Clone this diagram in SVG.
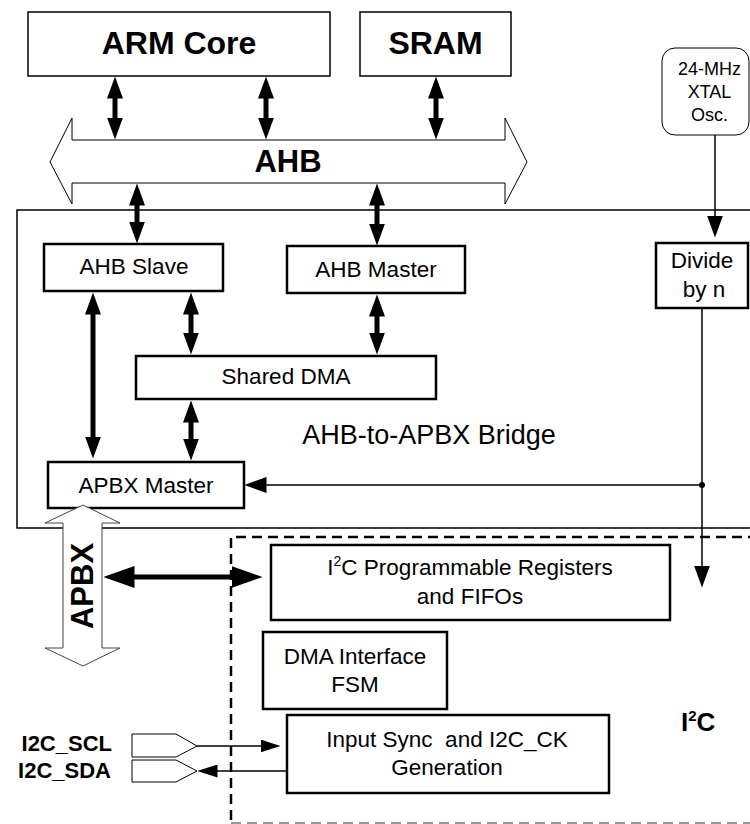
<svg xmlns="http://www.w3.org/2000/svg" width="750" height="824" viewBox="0 0 750 824">
<style>
  text { font-family: "Liberation Sans", Arial, Helvetica, sans-serif; fill: #000; }
  .big { font-size: 32px; font-weight: bold; text-anchor: middle; }
  .lbl { font-size: 22.5px; text-anchor: middle; }
  .thinbox { fill: #fff; stroke: #000; stroke-width: 1.5; }
  .thickbox { fill: #fff; stroke: #000; stroke-width: 2.5; }
  .bus { fill: #fff; stroke: #000; stroke-width: 1; }
  .bi { fill: none; stroke: #000; stroke-width: 5; marker-start: url(#ah); marker-end: url(#ah); }
  .thin { fill: none; stroke: #000; stroke-width: 1.5; }
  .osc { font-size: 18px; text-anchor: middle; }
  .pin { font-size: 22px; font-weight: bold; text-anchor: end; }
</style>
<defs>
  <marker id="ah" viewBox="0 0 22 16" markerWidth="22" markerHeight="16" refX="0.5" refY="8" markerUnits="userSpaceOnUse" orient="auto-start-reverse">
    <path d="M0,0 L22,8 L0,16 Z" fill="#000"/>
  </marker>
  <marker id="ah2" viewBox="0 0 31 22" markerWidth="31" markerHeight="22" refX="0.5" refY="11" markerUnits="userSpaceOnUse" orient="auto-start-reverse">
    <path d="M0,0 L31,11 L0,22 Z" fill="#000"/>
  </marker>
  <marker id="th" viewBox="0 0 22 16" markerWidth="22" markerHeight="16" refX="0.5" refY="8" markerUnits="userSpaceOnUse" orient="auto-start-reverse">
    <path d="M0,0 L22,8 L0,16 Z" fill="#000"/>
  </marker>
  <marker id="ths" viewBox="0 0 20 13" markerWidth="20" markerHeight="13" refX="0.5" refY="6.5" markerUnits="userSpaceOnUse" orient="auto-start-reverse">
    <path d="M0,0 L20,6.5 L0,13 Z" fill="#000"/>
  </marker>
</defs>

<!-- Bridge container -->
<g id="bridge">
  <rect x="17" y="210" width="745" height="318" class="thinbox"/>
  <text x="429" y="444" style="font-size:27px;text-anchor:middle">AHB-to-APBX Bridge</text>
</g>

<!-- I2C container -->
<g id="i2c-block">
  <path d="M231,820 V537 H750" fill="none" stroke="#000" stroke-width="2.5" stroke-dasharray="10 6"/>
  <path d="M231,823 H750" fill="none" stroke="#999" stroke-width="2" stroke-dasharray="10 6"/>
  <text x="681" y="731" style="font-size:26px;font-weight:bold">I<tspan dy="-10" style="font-size:15px">2</tspan><tspan dy="10">C</tspan></text>
</g>

<g id="arm-core">
  <rect x="28" y="12" width="302" height="64" class="thinbox"/>
  <text x="179" y="54" class="big">ARM Core</text>
</g>
<g id="sram">
  <rect x="360" y="12" width="151" height="64" class="thinbox"/>
  <text x="435.5" y="54" class="big">SRAM</text>
</g>

<g id="ahb-bus">
  <polygon points="72,140 505,140 505,118 527,162 505,204 505,183 72,183 72,204 50,162 72,118" class="bus"/>
  <text x="288" y="172" style="font-size:31px;font-weight:bold;text-anchor:middle">AHB</text>
</g>

<g id="xtal">
  <rect x="662" y="48" width="87" height="87" rx="13" ry="13" fill="#fff" stroke="#000" stroke-width="1"/>
  <text x="709.5" y="75" class="osc">24-MHz</text>
  <text x="709.5" y="98" class="osc">XTAL</text>
  <text x="709.5" y="121" class="osc">Osc.</text>
</g>

<g id="ahb-slave">
  <rect x="44" y="244" width="179" height="47" class="thickbox"/>
  <text x="134" y="274" class="lbl">AHB Slave</text>
</g>
<g id="ahb-master">
  <rect x="287" y="246" width="178" height="47" class="thickbox"/>
  <text x="376" y="277" class="lbl">AHB Master</text>
</g>
<g id="divide">
  <rect x="656" y="243" width="92" height="65" class="thickbox"/>
  <text x="702" y="268" class="lbl">Divide</text>
  <text x="704" y="297" class="lbl">by n</text>
</g>
<g id="shared-dma">
  <rect x="136" y="356" width="300" height="43" class="thickbox"/>
  <text x="286" y="384" class="lbl">Shared DMA</text>
</g>
<g id="apbx-master">
  <rect x="48" y="462" width="196" height="46" class="thickbox"/>
  <text x="146" y="493" class="lbl">APBX Master</text>
</g>

<g id="apbx-bus">
  <polygon points="83,505 120,523 102,523 102,648 120,648 83,666 45,648 63,648 63,523 45,523" fill="#fff" stroke="#444" stroke-width="1"/>
  <text transform="translate(93,586) rotate(-90)" style="font-size:31px;font-weight:bold;text-anchor:middle">APBX</text>
</g>

<g id="i2c-regs">
  <rect x="271" y="545" width="399" height="75" class="thickbox"/>
  <text x="470" y="575" class="lbl">I<tspan dy="-9" style="font-size:14px">2</tspan><tspan dy="9">C Programmable Registers</tspan></text>
  <text x="470" y="604" class="lbl">and FIFOs</text>
</g>
<g id="dma-fsm">
  <rect x="263" y="632" width="184" height="77" class="thickbox"/>
  <text x="355" y="664" class="lbl">DMA Interface</text>
  <text x="355" y="692" class="lbl">FSM</text>
</g>
<g id="input-sync">
  <rect x="287" y="715" width="322" height="78" class="thickbox"/>
  <text x="447" y="747" class="lbl" style="white-space:pre">Input Sync  and I2C_CK</text>
  <text x="447" y="775" class="lbl">Generation</text>
</g>

<g id="pins">
  <path d="M132,734 H176 L197,746 L176,757 H132 Z" fill="#fff" stroke="#000" stroke-width="1"/>
  <path d="M132,760 H176 L197,771 L176,782 H132 Z" fill="#fff" stroke="#000" stroke-width="1"/>
  <text x="112" y="751" class="pin">I2C_SCL</text>
  <text x="111" y="778" class="pin">I2C_SDA</text>
</g>

<g id="connectors">
  <!-- thick bidirectional -->
  <line x1="115" y1="98" x2="115" y2="118" class="bi"/>
  <line x1="266" y1="98" x2="266" y2="118" class="bi"/>
  <line x1="436" y1="98" x2="436" y2="118" class="bi"/>
  <line x1="137" y1="205" x2="137" y2="222" class="bi"/>
  <line x1="377" y1="205" x2="377" y2="224" class="bi"/>
  <line x1="93" y1="314" x2="93" y2="437" class="bi"/>
  <line x1="191" y1="314" x2="191" y2="333" class="bi"/>
  <line x1="377" y1="316" x2="377" y2="333" class="bi"/>
  <line x1="191" y1="422" x2="191" y2="439" class="bi"/>
  <line x1="134" y1="577" x2="232" y2="577" fill="none" stroke="#000" stroke-width="5" marker-start="url(#ah2)" marker-end="url(#ah2)"/>
  <!-- thin -->
  <line x1="715" y1="135" x2="715" y2="216" class="thin" marker-end="url(#th)"/>
  <line x1="702" y1="308" x2="702" y2="566" class="thin" marker-end="url(#th)"/>
  <line x1="702" y1="485" x2="266" y2="485" class="thin" marker-end="url(#th)"/>
  <circle cx="702" cy="485" r="3" fill="#000"/>
  <line x1="197" y1="746" x2="261" y2="746" class="thin" marker-end="url(#ths)"/>
  <line x1="287" y1="771" x2="217" y2="771" class="thin" marker-end="url(#ths)"/>
</g>
</svg>
